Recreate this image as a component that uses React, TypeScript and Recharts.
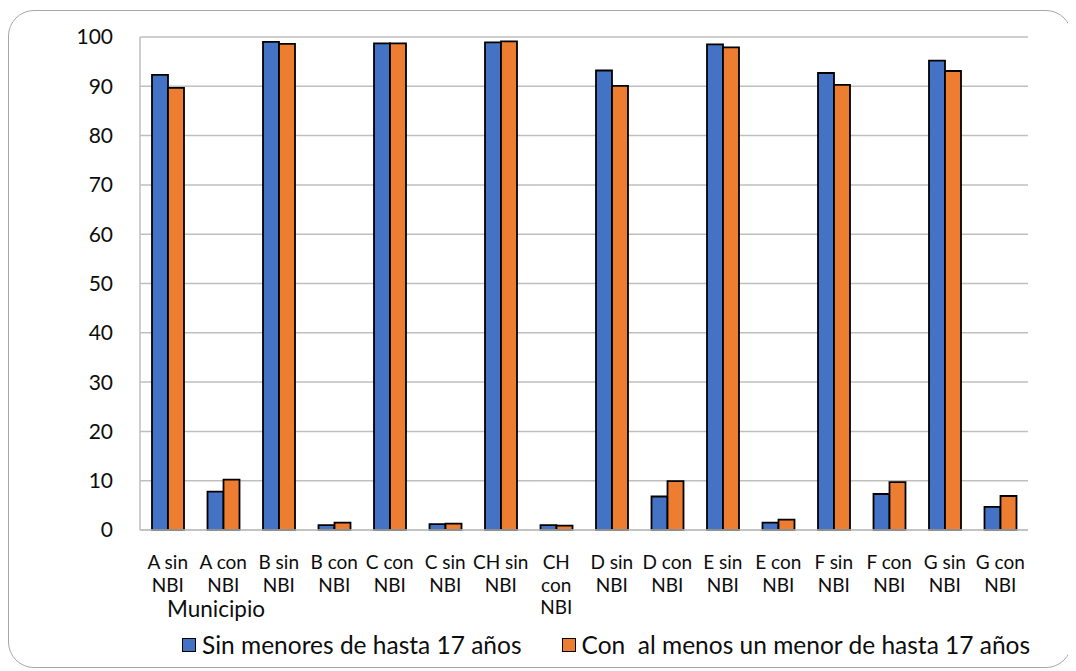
import React from "react";
import { BarChart, Bar, XAxis, YAxis, CartesianGrid, Legend } from "recharts";

// categorías del eje X (municipio + condición NBI)
const categories = [
  "A sin NBI", "A con NBI", "B sin NBI", "B con NBI",
  "C con NBI", "C sin NBI", "CH sin NBI", "CH con NBI",
  "D sin NBI", "D con NBI", "E sin NBI", "E con NBI",
  "F sin NBI", "F con NBI", "G sin NBI", "G con NBI",
];

const seriesNames = ["Sin menores de hasta 17 años", "Con  al menos un menor de hasta 17 años"];
const seriesColors = ["#4472C4", "#ED7D31"];

const sinMenores = [92.3, 7.8, 99.0, 1.0, 98.7, 1.2, 98.9, 1.0, 93.2, 6.8, 98.5, 1.5, 92.7, 7.3, 95.2, 4.7];
const conMenor = [89.7, 10.2, 98.6, 1.5, 98.7, 1.3, 99.1, 0.9, 90.1, 9.9, 97.9, 2.1, 90.3, 9.7, 93.1, 6.9];

const yTicks = [0, 10, 20, 30, 40, 50, 60, 70, 80, 90, 100];

const data = categories.map((name, i) => ({
  name,
  sin: sinMenores[i],
  con: conMenor[i],
}));

const FONT = "Lato, 'Open Sans', sans-serif";
const TEXT = "#0d0d0d";
const GRID = "#bfbfbf";

let ctx: CanvasRenderingContext2D | null = null;
const measure = (s: string, font: string) => {
  if (!ctx) ctx = document.createElement("canvas").getContext("2d");
  if (!ctx) return s.length * 9;
  ctx.font = font;
  return ctx.measureText(s).width;
};

// word wrap like Excel does in narrow categories
const wrap = (label: string, maxW: number, font: string) => {
  const lines: string[] = [];
  let cur = "";
  label.split(" ").forEach((w) => {
    const test = cur ? cur + " " + w : w;
    if (!cur || measure(test, font) <= maxW) cur = test;
    else {
      lines.push(cur);
      cur = w;
    }
  });
  if (cur) lines.push(cur);
  return lines;
};

const XTick = ({ x, y, payload }: any) => {
  const lines = wrap(payload.value, 58, `19px Lato`);
  return (
    <text x={x} y={y + 39} textAnchor="middle" fill={TEXT} fontSize={19} fontFamily={FONT}>
      {lines.map((l, i) => (
        <tspan key={i} x={x} dy={i === 0 ? 0 : 22.5}>
          {l}
        </tspan>
      ))}
    </text>
  );
};

const LegendContent = () => (
  <div style={{ display: "flex", alignItems: "center", fontFamily: FONT, fontSize: 24.5, color: TEXT, lineHeight: "30px" }}>
    {seriesNames.map((name, i) => (
      <div key={i} style={{ display: "flex", alignItems: "center", marginRight: 40 }}>
        <span
          style={{
            display: "inline-block",
            width: 12,
            height: 12,
            background: seriesColors[i],
            border: "1.5px solid #000",
            marginRight: 6,
          }}
        />
        <span style={{ whiteSpace: "pre" }}>{name}</span>
      </div>
    ))}
  </div>
);

export default function App() {
  return (
    <div style={{ position: "relative", width: 1064, height: 658, marginTop: 2 }}>
      <div
        style={{
          position: "absolute",
          inset: 0,
          border: "1.5px solid #a6a6a6",
          borderRadius: 26,
          boxSizing: "border-box",
        }}
      />
      <div style={{ position: "absolute", left: 0, top: 0 }}>
        <BarChart
          width={1064}
          height={658}
          data={data}
          margin={{ top: 27, right: 44, left: 0, bottom: 0 }}
          barGap={0}
          barSize={16}
        >
          <CartesianGrid vertical={false} stroke={GRID} strokeWidth={1.5} />
          <XAxis
            dataKey="name"
            height={138}
            interval={0}
            tickLine={false}
            tickSize={0}
            tickMargin={0}
            axisLine={{ stroke: GRID, strokeWidth: 1.5 }}
            tick={<XTick />}
            label={{
              content: ({ viewBox }: any) => (
                <text x={viewBox.x + 27} y={viewBox.y + 87} fill={TEXT} fontSize={22.5} fontFamily={FONT}>
                  Municipio
                </text>
              ),
            }}
          />
          <YAxis
            width={132}
            domain={[0, 100]}
            ticks={yTicks}
            interval={0}
            tickLine={false}
            tickSize={0}
            tickMargin={27}
            axisLine={{ stroke: GRID, strokeWidth: 1.5 }}
            tick={{ fill: TEXT, fontSize: 21, fontFamily: FONT }}
          />
          <Legend
            layout="horizontal"
            verticalAlign="middle"
            align="center"
            content={<LegendContent />}
            wrapperStyle={{ position: "absolute", left: 174, top: 620, width: 880, height: 30 }}
          />
          <Bar dataKey="sin" name={seriesNames[0]} fill={seriesColors[0]} stroke="#000" strokeWidth={1.8} isAnimationActive={false} />
          <Bar dataKey="con" name={seriesNames[1]} fill={seriesColors[1]} stroke="#000" strokeWidth={1.8} isAnimationActive={false} />
        </BarChart>
      </div>
    </div>
  );
}
